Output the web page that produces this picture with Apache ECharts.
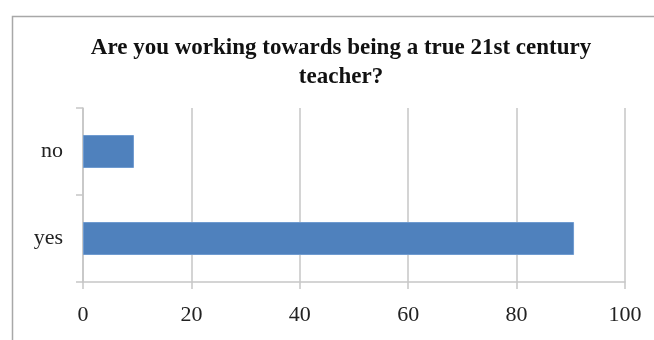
<!DOCTYPE html>
<html>
<head>
<meta charset="utf-8">
<script src="https://cdn.jsdelivr.net/npm/echarts@6/dist/echarts.min.js"></script>
<style>
  html, body { margin: 0; padding: 0; background: #fff; }
  #chart { width: 654px; height: 340px; }
</style>
</head>
<body>
<div id="chart"></div>
<script>
// Survey answers (percent of respondents)
const categories = ['yes', 'no'];
const percentages = [90.6, 9.4];
const xTicks = { min: 0, max: 100, interval: 20 };
const chartTitle = 'Are you working towards being a true 21st century\nteacher?';

const serif = '"Liberation Serif", "Times New Roman", serif';
const gridColor = '#c6c6c6';

const chart = echarts.init(document.getElementById('chart'), null, { renderer: 'canvas' });
chart.setOption({
  animation: false,
  backgroundColor: '#fff',
  graphic: [{
    type: 'rect',
    left: 10, top: 14,
    shape: { width: 700, height: 400 },
    style: { fill: 'none', stroke: '#a8a8a8', lineWidth: 1.5 }
  }],
  title: {
    text: chartTitle,
    left: 336, top: 29,
    textAlign: 'center',
    textStyle: {
      fontFamily: serif, fontWeight: 'bold', fontSize: 23,
      lineHeight: 29, color: '#111'
    }
  },
  grid: { left: 83, right: 29, top: 108, bottom: 58, containLabel: false },
  xAxis: {
    type: 'value',
    min: xTicks.min, max: xTicks.max, interval: xTicks.interval,
    axisLine: { show: true, lineStyle: { color: gridColor, width: 1.5 } },
    axisTick: { show: true, length: 7, lineStyle: { color: gridColor, width: 1.5 } },
    splitLine: { show: true, lineStyle: { color: gridColor, width: 1.5 } },
    axisLabel: { fontFamily: serif, fontSize: 22, color: '#222', margin: 22 }
  },
  yAxis: {
    type: 'category',
    data: categories,
    axisLine: { show: true, lineStyle: { color: gridColor, width: 1.5 } },
    axisTick: { show: true, length: 7, lineStyle: { color: gridColor, width: 1.5 } },
    axisLabel: { fontFamily: serif, fontSize: 22, color: '#222', margin: 20 }
  },
  series: [{
    type: 'bar',
    data: percentages,
    barWidth: 33,
    itemStyle: { color: '#4f81bd', borderColor: '#6f9bd0', borderWidth: 1 }
  }]
});
</script>
</body>
</html>
